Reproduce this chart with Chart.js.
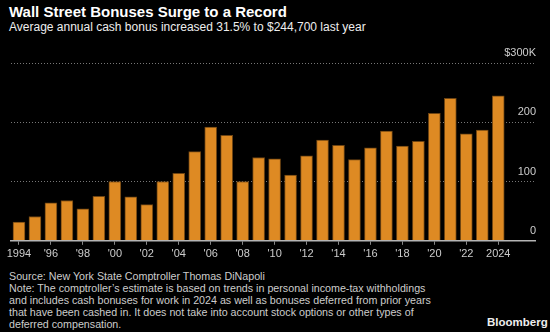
<!DOCTYPE html>
<html lang="en">

<head>
    <meta charset="UTF-8" />
    <title>Wall Street Bonuses Surge to a Record</title>
    <script src="https://cdn.jsdelivr.net/npm/chart.js"></script>
    <style>
        html,
        body {
            margin: 0;
            padding: 0;
            background: #000;
            width: 550px;
            height: 332px;
            overflow: hidden;
            font-family: "Liberation Sans", Arial, sans-serif;
            color: #fff;
        }

        .title {
            position: absolute;
            left: 9px;
            top: 3px;
            font-size: 15px;
            font-weight: bold;
        }

        .subtitle {
            position: absolute;
            left: 9px;
            top: 20px;
            font-size: 12px;
            color: #eee;
        }

        .chart-box {
            position: absolute;
            left: 0;
            top: 40px;
            width: 550px;
            height: 224px;
        }

        .notes {
            position: absolute;
            left: 9px;
            top: 271px;
            font-size: 10.7px;
            line-height: 11.9px;
            color: #ccc;
        }

        .brand {
            position: absolute;
            left: 487px;
            top: 316px;
            font-size: 11.5px;
            font-weight: bold;
            color: #eee;
        }
    </style>
</head>

<body>
    <div class="title">Wall Street Bonuses Surge to a Record</div>
    <div class="subtitle">Average annual cash bonus increased 31.5% to $244,700 last year</div>

    <div class="chart-box">
        <canvas id="bonusChart" width="550" height="224"></canvas>
    </div>

    <div class="notes">
        Source: New York State Comptroller Thomas DiNapoli<br>
        Note: The comptroller’s estimate is based on trends in personal income-tax withholdings<br>
        and includes cash bonuses for work in 2024 as well as bonuses deferred from prior years<br>
        that have been cashed in. It does not take into account stock options or other types of<br>
        deferred compensation.
    </div>
    <div class="brand">Bloomberg</div>

    <script>
        // average annual cash bonus, thousands of dollars
        const years = [1994, 1995, 1996, 1997, 1998, 1999, 2000, 2001, 2002, 2003,
            2004, 2005, 2006, 2007, 2008, 2009, 2010, 2011, 2012, 2013,
            2014, 2015, 2016, 2017, 2018, 2019, 2020, 2021, 2022, 2023, 2024];
        const bonus = [31.5, 41, 64, 68, 54, 75, 100, 74, 61, 100,
            114, 150.5, 192, 178, 100, 140.5, 138.5, 111, 143.5, 170,
            161, 137, 157, 185, 160, 168, 215, 240.5, 180.5, 187, 244.7];
        const tickYears = [1994, 1996, 1998, 2000, 2002, 2004, 2006, 2008, 2010,
            2012, 2014, 2016, 2018, 2020, 2022, 2024];
        const yTicks = [0, 100, 200, 300];

        function yearLabel(y) {
            if (y === 1994 || y === 2024) return String(y);
            return "'" + String(y).slice(2);
        }

        const ctx = document.getElementById("bonusChart").getContext("2d");
        new Chart(ctx, {
            type: 'bar',
            data: {
                datasets: [{
                    label: "Average cash bonus",
                    data: years.map((y, i) => ({ x: y, y: bonus[i] })),
                    backgroundColor: '#de8a23',
                    borderColor: '#6e4412',
                    borderWidth: 1,
                    barThickness: 12
                }]
            },
            options: {
                responsive: false,
                animation: false,
                layout: { padding: { left: 11, right: 13, top: 23, bottom: 0 } },
                plugins: {
                    legend: { display: false },
                    tooltip: { enabled: false }
                },
                scales: {
                    x: {
                        type: 'linear',
                        min: 1993.5,
                        max: 2026.3,
                        offset: false,
                        afterBuildTicks: axis => { axis.ticks = tickYears.map(v => ({ value: v })); },
                        grid: {
                            drawOnChartArea: false,
                            drawTicks: true,
                            tickLength: 4,
                            color: '#888',
                            offset: false
                        },
                        border: { display: true, color: '#b5b5b5', width: 1.5, z: 1 },
                        ticks: {
                            autoSkip: false,
                            maxRotation: 0,
                            padding: 3,
                            color: '#ccc',
                            font: { family: '"Liberation Sans", Arial, sans-serif', size: 11 },
                            callback: v => yearLabel(v)
                        }
                    },
                    y: {
                        position: 'right',
                        min: 0,
                        max: 300,
                        afterBuildTicks: axis => { axis.ticks = yTicks.map(v => ({ value: v })); },
                        grid: {
                            drawTicks: false,
                            color: c => c.tick && c.tick.value === 0 ? 'rgba(0,0,0,0)' : '#777'
                        },
                        border: { display: false, dash: [1, 2] },
                        ticks: {
                            mirror: true,
                            padding: 1,
                            labelOffset: -10,
                            color: '#ccc',
                            font: { family: '"Liberation Sans", Arial, sans-serif', size: 11 },
                            callback: v => v === 300 ? '$300K' : v
                        }
                    }
                }
            }
        });
    </script>
</body>

</html>
